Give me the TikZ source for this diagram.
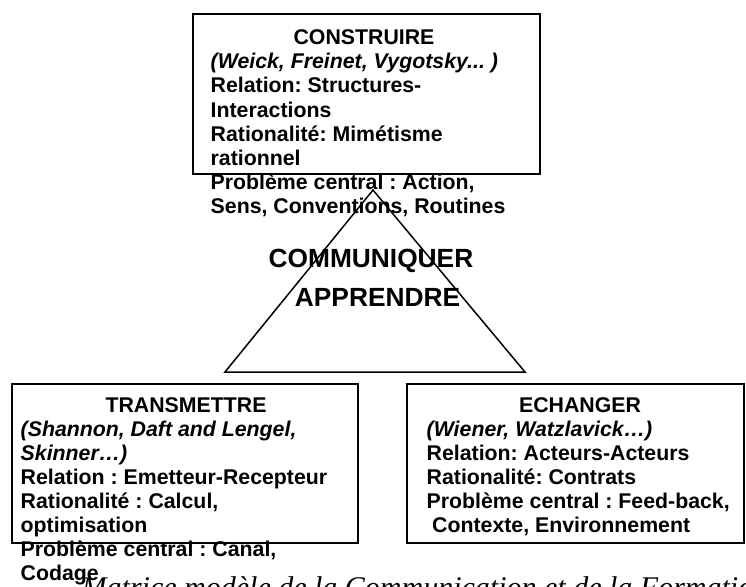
\documentclass[tikz,border=0pt]{standalone}
\usepackage{fontspec}
\setmainfont{Liberation Sans}
\newfontfamily\capfont{Liberation Serif}
\frenchspacing
\begin{document}
\begin{tikzpicture}[x=1pt,y=-1pt,
  box/.style={draw=black,line width=1.4pt},
  txt/.style={inner sep=0pt,anchor=base west,font=\fontsize{21.3}{24}\selectfont\bfseries},
  ttl/.style={txt,anchor=base},
  refs/.style={txt,font=\fontsize{21.3}{24}\selectfont\bfseries\itshape},
  big/.style={inner sep=0pt,anchor=base,font=\fontsize{26.3}{30}\selectfont\bfseries},
  captxt/.style={inner sep=0pt,anchor=base west,font=\capfont\itshape\fontsize{30}{34}\selectfont},
  tri/.style={draw=black,line width=1.5pt,line join=miter}]
\useasboundingbox (0,0) rectangle (746,586);
\clip (0,0) rectangle (746,586);
\fill[white] (0,0) rectangle (746,586);

% caption (clipped by the page edge)
\node[captxt] (cap) at (81.5,597) {Matrice modèle de la Communication et de la Formation};

% boxes
\draw[box] (193,14) rectangle (540,174);
\draw[box] (12,384) rectangle (358,543);
\draw[box] (407,384) rectangle (744,543);

% top box text
\node[ttl]  (c0) at (364,44.5) {CONSTRUIRE};
\node[refs] (c1) at (210.5,68.7) {(Weick, Freinet, Vygotsky... )};
\node[txt]  (c2) at (210.5,92.9) {Relation: Structures-};
\node[txt]  (c3) at (210.5,117.1) {Interactions};
\node[txt]  (c4) at (210.5,141.3) {Rationalité: Mimétisme};
\node[txt]  (c5) at (210.5,165.5) {rationnel};
\node[txt]  (c6) at (210.5,189.7) {Problème central : Action,};
\node[txt]  (c7) at (210.5,213.9) {Sens, Conventions, Routines};

% centre
\node[big] (m1) at (371,267.5) {COMMUNIQUER};
\node[big] (m2) at (377.5,306.5) {APPRENDRE};

% triangle
\coordinate (apex) at (373,190);
\coordinate (bl) at (225,372);
\coordinate (br) at (525,372);
\draw[tri] (apex) -- (bl) -- (br) -- cycle;

% bottom left
\node[ttl]  (t0) at (186,412.5) {TRANSMETTRE};
\node[refs] (t1) at (20.5,436.5) {(Shannon, Daft and Lengel,};
\node[refs] (t2) at (20.5,460.5) {Skinner…)};
\node[txt]  (t3) at (20.5,484.5) {Relation : Emetteur-Recepteur};
\node[txt]  (t4) at (20.5,508.5) {Rationalité : Calcul,};
\node[txt]  (t5) at (20.5,532.5) {optimisation};
\node[txt]  (t6) at (20.5,556.5) {Problème central : Canal,};
\node[txt]  (t7) at (20.5,580.5) {Codage};

% bottom right
\node[ttl]  (e0) at (580,412.5) {ECHANGER};
\node[refs] (e1) at (426.5,436.5) {(Wiener, Watzlavick…)};
\node[txt]  (e2) at (426.5,460.5) {Relation: Acteurs-Acteurs};
\node[txt]  (e3) at (426.5,484.5) {Rationalité: Contrats};
\node[txt]  (e4) at (426.5,508.5) {Problème central : Feed-back,};
\node[txt]  (e5) at (432,532.5) {Contexte, Environnement};
\end{tikzpicture}
\end{document}
